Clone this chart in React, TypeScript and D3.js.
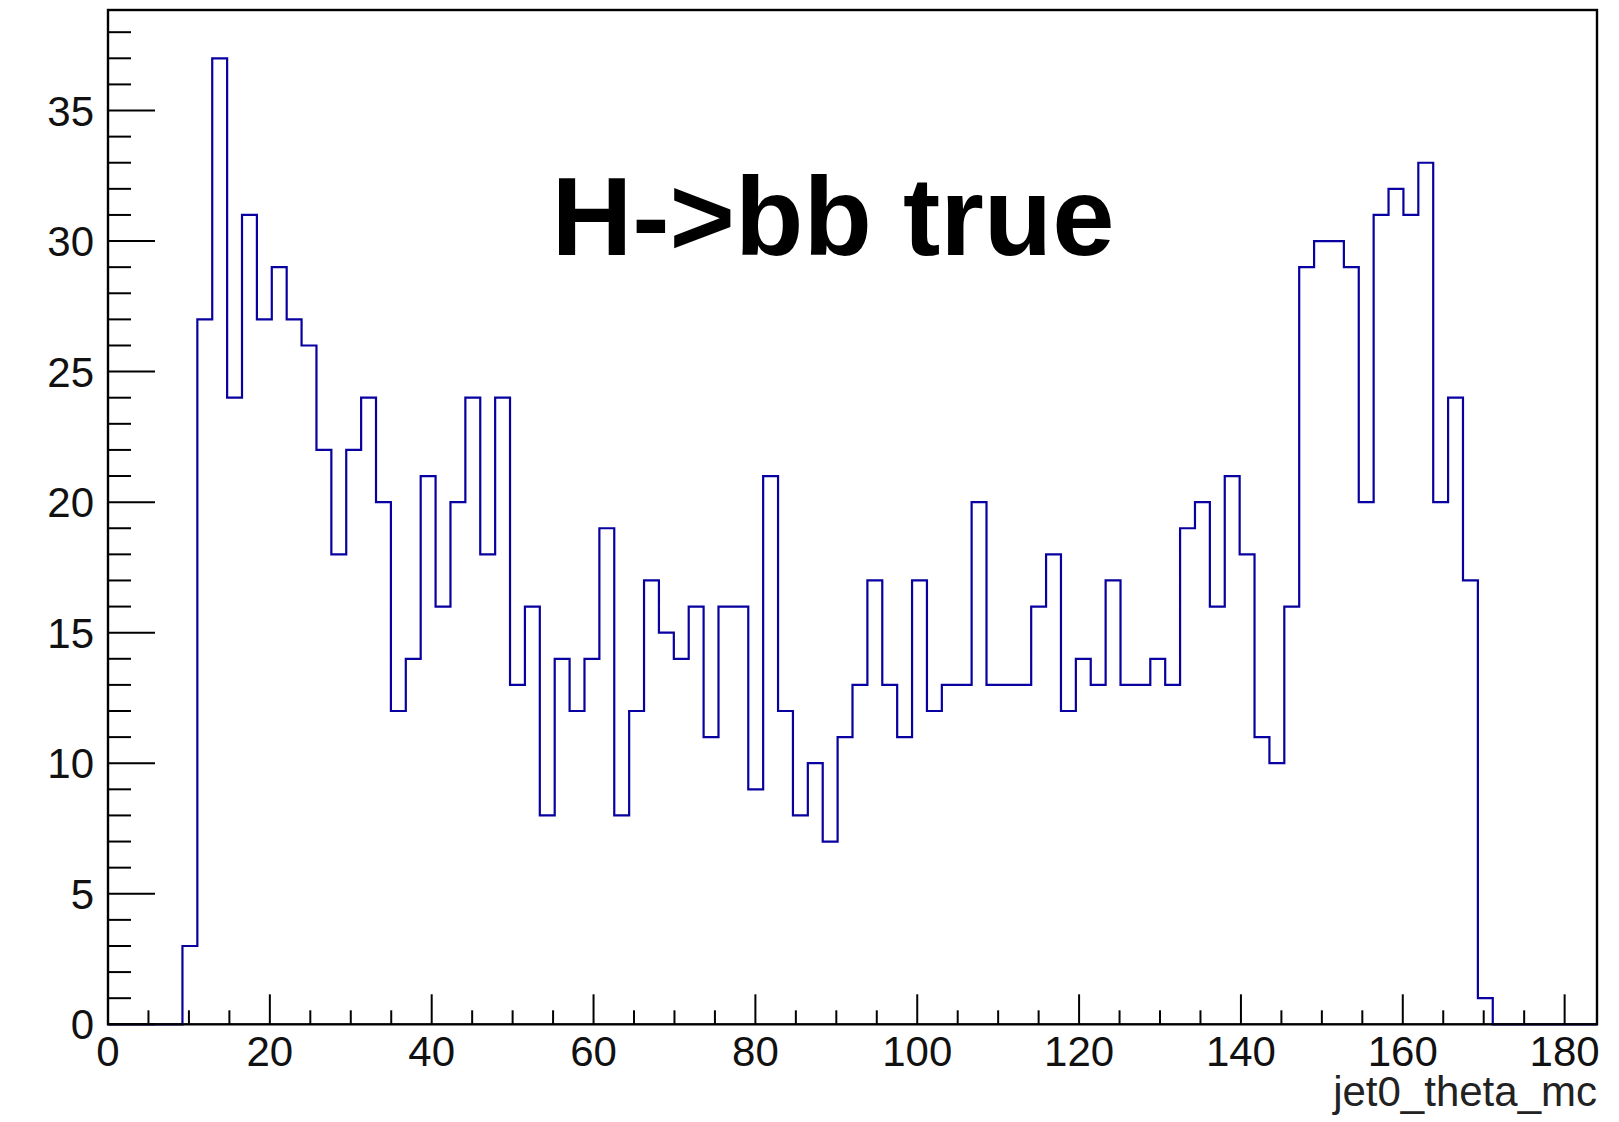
import React from "react";
import * as d3 from "d3";

const xMin = 0;
const xMax = 184;
const nBins = 100;
const yMax = 38.85;
const counts: number[] = [
  0, 0, 0, 0, 0, 3, 27, 37, 24, 31,
  27, 29, 27, 26, 22, 18, 22, 24, 20, 12,
  14, 21, 16, 20, 24, 18, 24, 13, 16, 8,
  14, 12, 14, 19, 8, 12, 17, 15, 14, 16,
  11, 16, 16, 9, 21, 12, 8, 10, 7, 11,
  13, 17, 13, 11, 17, 12, 13, 13, 20, 13,
  13, 13, 16, 18, 12, 14, 13, 17, 13, 13,
  14, 13, 19, 20, 16, 21, 18, 11, 10, 16,
  29, 30, 30, 29, 20, 31, 32, 31, 33, 20,
  24, 17, 1, 0, 0, 0, 0, 0, 0, 0,
];
const xMajorTicks = [0, 20, 40, 60, 80, 100, 120, 140, 160, 180];
const yMajorTicks = [0, 5, 10, 15, 20, 25, 30, 35];
const titleText = "H->bb true";
const xAxisTitle = "jet0_theta_mc";

const W = 1619;
const H = 1122;
const left = 108;
const right = 1597;
const top = 10;
const bottom = 1024.3;
const font = "'Liberation Sans', Arial, Helvetica, sans-serif";

export default function App() {
  const x = d3.scaleLinear().domain([xMin, xMax]).range([left, right]);
  const y = d3.scaleLinear().domain([0, yMax]).range([bottom, top]);
  const bw = (xMax - xMin) / nBins;

  const pts: [number, number][] = [[xMin, 0]];
  counts.forEach((c, i) => {
    pts.push([xMin + i * bw, c]);
    pts.push([xMin + (i + 1) * bw, c]);
  });
  pts.push([xMax, 0]);
  const line = d3
    .line<[number, number]>()
    .x((d) => x(d[0]))
    .y((d) => y(d[1]));
  const path = line(pts) || "";

  const xMinor = d3.range(0, xMax + 0.001, 5).filter((v) => v % 20 !== 0);
  const yMinor = d3.range(0, Math.floor(yMax) + 1, 1).filter((v) => v % 5 !== 0);

  return (
    <svg
      width={W}
      height={H}
      style={{ position: "absolute", left: 0, top: 0, background: "#fff" }}
    >
      <rect x={0} y={0} width={W} height={H} fill="#fff" />
      <path d={path} fill="none" stroke="#0800a0" strokeWidth={2.2} />
      {/* y ticks */}
      {yMajorTicks.map((v) => (
        <line key={"ym" + v} x1={left} x2={left + 47} y1={y(v)} y2={y(v)} stroke="#000" strokeWidth={2} />
      ))}
      {yMinor.map((v) => (
        <line key={"yn" + v} x1={left} x2={left + 23} y1={y(v)} y2={y(v)} stroke="#000" strokeWidth={2} />
      ))}
      {yMajorTicks.map((v) => (
        <text
          key={"yl" + v}
          x={94}
          y={y(v)}
          dy="0.36em"
          textAnchor="end"
          fontFamily={font}
          fontSize={42}
          fill="#111"
        >
          {v}
        </text>
      ))}
      {/* x ticks */}
      {xMajorTicks.map((v) => (
        <line key={"xm" + v} x1={x(v)} x2={x(v)} y1={bottom} y2={bottom - 30} stroke="#000" strokeWidth={2} />
      ))}
      {xMinor.map((v) => (
        <line key={"xn" + v} x1={x(v)} x2={x(v)} y1={bottom} y2={bottom - 14} stroke="#000" strokeWidth={2} />
      ))}
      {xMajorTicks.map((v) => (
        <text
          key={"xl" + v}
          x={x(v)}
          y={1066}
          textAnchor="middle"
          fontFamily={font}
          fontSize={42}
          fill="#111"
        >
          {v}
        </text>
      ))}
      {/* frame */}
      <rect x={left} y={top} width={right - left} height={bottom - top} fill="none" stroke="#000" strokeWidth={2.4} />
      <text x={right} y={1106} textAnchor="end" fontFamily={font} fontSize={42} fill="#222">
        {xAxisTitle}
      </text>
      <text x={833} y={255} textAnchor="middle" fontFamily={font} fontWeight="bold" fontSize={112} fill="#000">
        {titleText}
      </text>
    </svg>
  );
}
